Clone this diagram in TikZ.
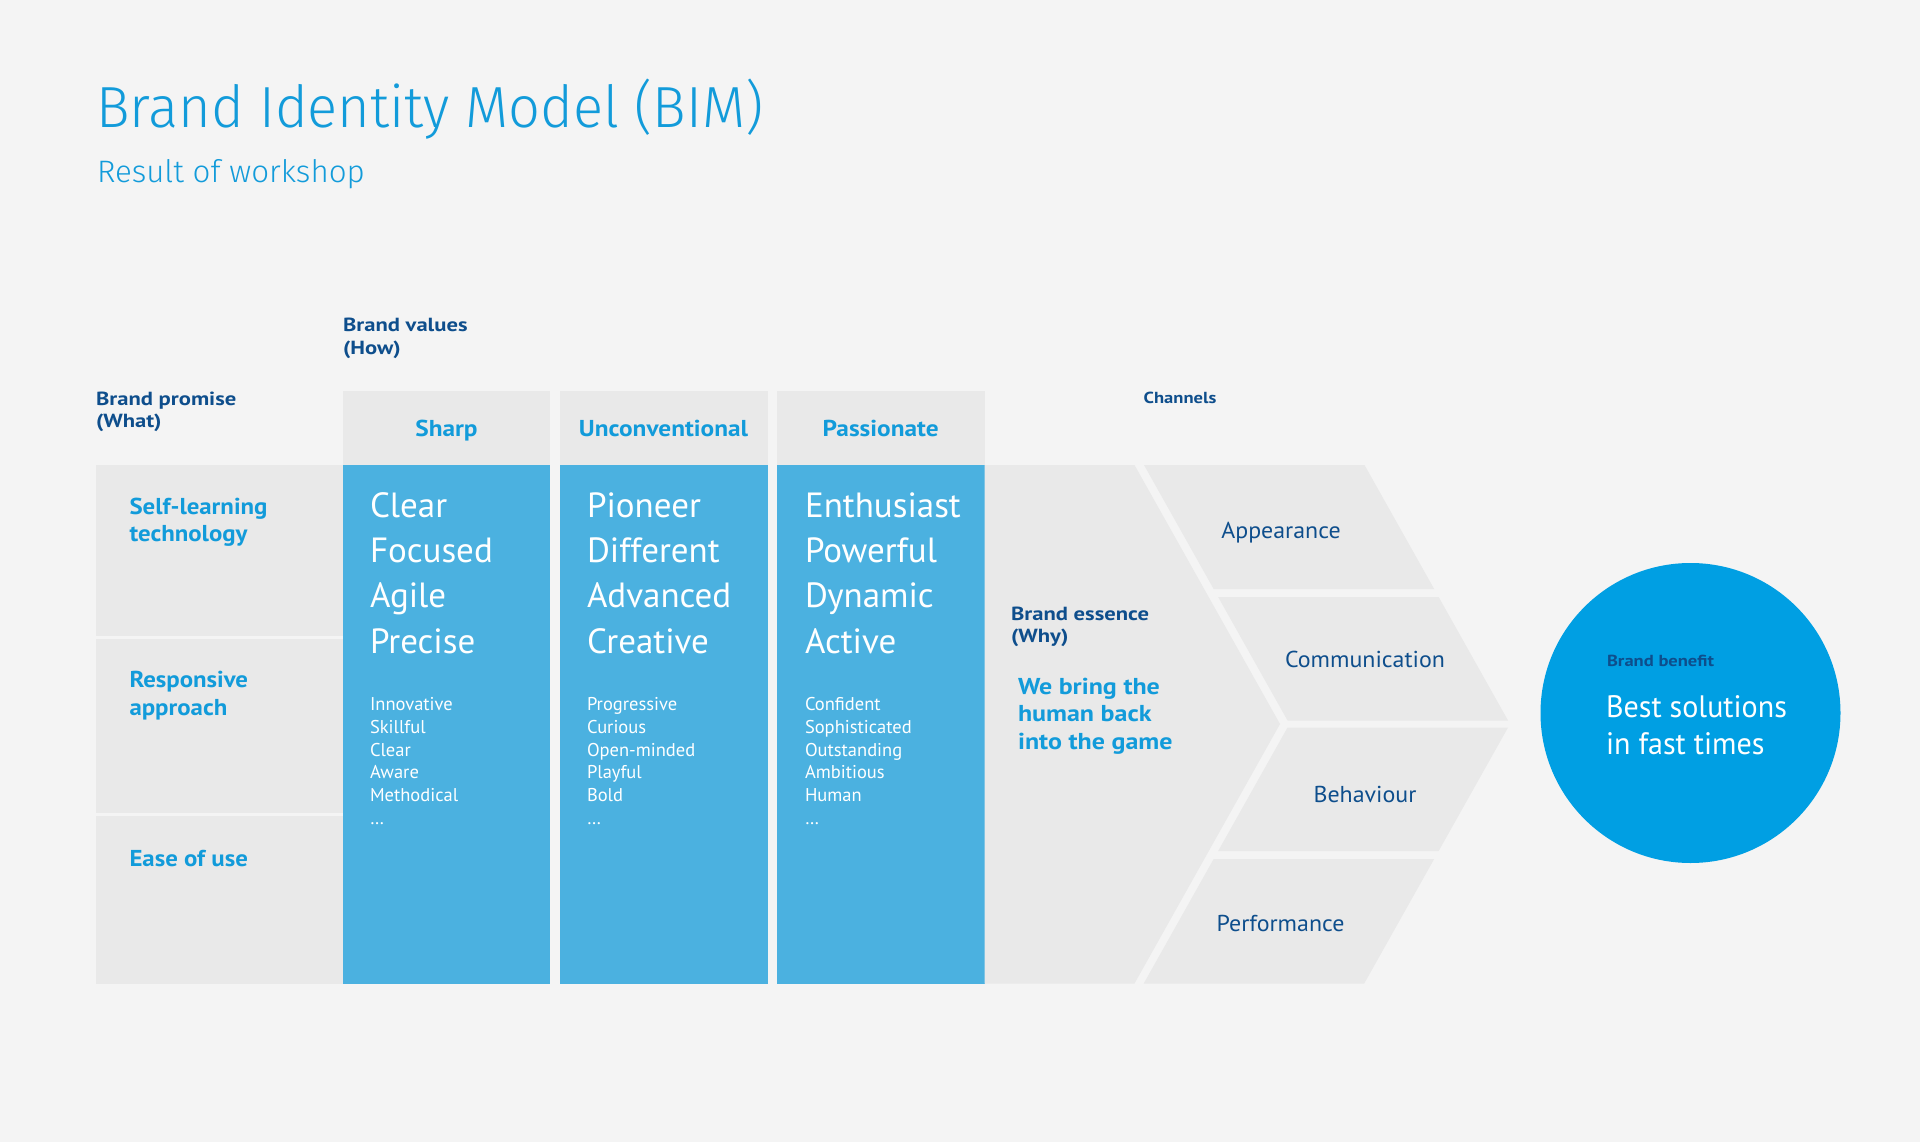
\documentclass[tikz,border=0pt]{standalone}
\usepackage{fontspec}
\setmainfont{PT Sans}
\newfontfamily\titlefont{Fira Sans}[UprightFont={* Light}]
\definecolor{bg}{HTML}{F4F4F4}
\definecolor{panel}{HTML}{E9E9E9}
\definecolor{colblue}{HTML}{4BB1E0}
\definecolor{circblue}{HTML}{009FE3}
\definecolor{dblue}{HTML}{0E4E8C}
\definecolor{lblue}{HTML}{129BDA}
\newcommand{\wide}[1]{\addfontfeature{FakeStretch=#1}}
\tikzset{
  txt/.style={inner sep=0pt, outer sep=0pt, anchor=base west},
  ctxt/.style={inner sep=0pt, outer sep=0pt, anchor=base},
  sectitle/.style={txt, text=dblue, font=\bfseries\wide{1.19}\fontsize{19}{22}\selectfont},
  header/.style={ctxt, text=lblue, font=\bfseries\wide{1.1}\fontsize{23}{26}\selectfont},
  promise/.style={txt, text=lblue, font=\bfseries\wide{1.08}\fontsize{23}{26}\selectfont},
  essence/.style={txt, text=lblue, font=\bfseries\wide{1.13}\fontsize{23}{26}\selectfont},
  bigword/.style={txt, text=white, font=\fontsize{35}{40}\selectfont},
  smallword/.style={txt, text=white, font=\fontsize{18.5}{22}\selectfont},
  chan/.style={ctxt, text=dblue, font=\wide{1.04}\fontsize{23}{26}\selectfont},
  smalldark/.style={txt, text=dblue, font=\bfseries\wide{1.16}\fontsize{16}{18}\selectfont},
  panelbox/.style={fill=panel, draw=none},
  bluebox/.style={fill=colblue, draw=none},
}
\begin{document}
\begin{tikzpicture}[x=1pt,y=-1pt]
\useasboundingbox (0,0) rectangle (1920,1142);
\fill[bg] (0,0) rectangle (1920,1142);

% title
\node[txt, text=lblue, font=\titlefont\wide{0.965}\fontsize{58}{62}\selectfont] (title) at (96,128) {Brand Identity Model (BIM)};
\node[txt, text=lblue, font=\titlefont\wide{1.01}\fontsize{31}{34}\selectfont] (subtitle) at (97,182.5) {Result of workshop};

% section titles
\node[sectitle] (bv1) at (343,331.5) {Brand values};
\node[sectitle] (bv2) at (343,354) {(How)};
\node[sectitle] (bp1) at (96,405) {Brand promise};
\node[sectitle] (bp2) at (96,427.5) {(What)};

% brand promise column
\fill[panelbox] (96,465) rectangle (342.5,983.5);
\draw[bg, line width=3pt] (96,637.5) -- (342.5,637.5);
\draw[bg, line width=3pt] (96,814) -- (342.5,814);
\node[promise] (p1a) at (129.5,514.3) {Self-learning};
\node[promise] (p1b) at (129.5,541.8) {technology};
\node[promise] (p2a) at (129.5,687.5) {Responsive};
\node[promise] (p2b) at (129.5,715.5) {approach};
\node[promise] (p3) at (129.5,866.8) {Ease of use};

% value columns
\foreach \xl/\xr/\name in {343/550/sharp, 559.5/767.5/unconv, 777/984.5/pass}{
  \fill[panelbox] (\xl,391) rectangle (\xr,465);
  \fill[bluebox] (\xl,465) rectangle (\xr,983.5);
}
\node[header] (hsharp) at (446.5,436.7) {Sharp};
\node[header] (hunconv) at (663.5,436.7) {Unconventional};
\node[header] (hpass) at (880.7,436.7) {Passionate};

\foreach \w [count=\i from 0] in {Clear,Focused,Agile,Precise}
  \node[bigword] (sb\i) at (370,517.3+45.3*\i) {\w};
\foreach \w [count=\i from 0] in {Pioneer,Different,Advanced,Creative}
  \node[bigword] (ub\i) at (587,517.3+45.3*\i) {\w};
\foreach \w [count=\i from 0] in {Enthusiast,Powerful,Dynamic,Active}
  \node[bigword] (pb\i) at (805,517.3+45.3*\i) {\w};

\foreach \w [count=\i from 0] in {Innovative,Skillful,Clear,Aware,Methodical,\dots}
  \node[smallword] (ss\i) at (370,710.7+22.7*\i) {\w};
\foreach \w [count=\i from 0] in {Progressive,Curious,Open-minded,Playful,Bold,\dots}
  \node[smallword] (us\i) at (587,710.7+22.7*\i) {\w};
\foreach \w [count=\i from 0] in {Confident,Sophisticated,Outstanding,Ambitious,Human,\dots}
  \node[smallword] (ps\i) at (805,710.7+22.7*\i) {\w};

% brand essence chevron
\def\sl{0.5618}
\fill[panelbox] (984.5,465) -- (1134.5,465) -- (1280,724) -- (1134.5,983.5) -- (984.5,983.5) -- cycle;
\node[sectitle] (be1) at (1011,620) {Brand essence};
\node[sectitle] (be2) at (1011,642) {(Why)};
\node[essence] (we1) at (1018,694.7) {We bring the};
\node[essence] (we2) at (1018,721.6) {human back};
\node[essence] (we3) at (1018,749) {into the game};

% channels
\node[smalldark] (chan) at (1143.7,403) {Channels};
\foreach \ya/\yb in {465/589, 597/720.5, 727.5/851, 859/983.5}{
  \fill[panelbox]
    ({1289.5-\sl*abs(\ya-724)},\ya) -- ({1510-\sl*abs(\ya-724)},\ya) --
    ({1510-\sl*abs(\yb-724)},\yb) -- ({1289.5-\sl*abs(\yb-724)},\yb) -- cycle;
}
\node[chan] (c1) at (1281,538.4) {Appearance};
\node[chan] (c2) at (1365,667) {Communication};
\node[chan] (c3) at (1365,802) {Behaviour};
\node[chan] (c4) at (1280.5,931.4) {Performance};

% brand benefit
\fill[circblue] (1690.5,713) circle (150);
\node[smalldark] (bb) at (1607,666) {Brand benefit};
\node[txt, text=white, font=\wide{0.97}\fontsize{31}{34}\selectfont] (bs1) at (1606,717) {Best solutions};
\node[txt, text=white, font=\wide{0.97}\fontsize{31}{34}\selectfont] (bs2) at (1606,754) {in fast times};
\end{tikzpicture}
\end{document}
